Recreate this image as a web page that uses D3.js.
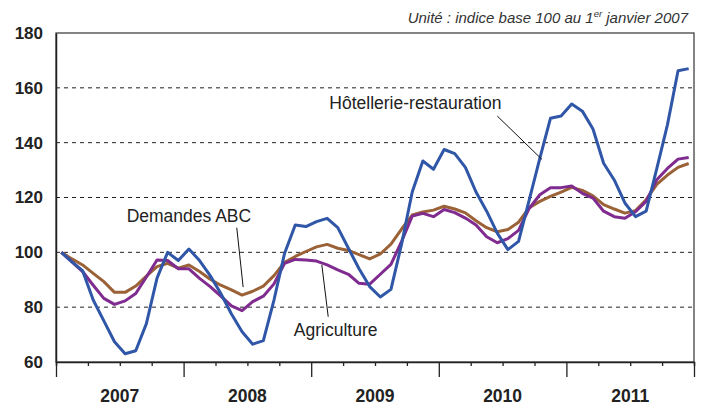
<!DOCTYPE html>
<html>
<head>
<meta charset="utf-8">
<script src="https://cdn.jsdelivr.net/npm/d3@7"></script>
<style>
  body { margin: 0; background: #fff; }
  text { font-family: "Liberation Sans", Arial, sans-serif; }
</style>
</head>
<body>
<div id="container"></div>
<script>
// monthly index, base 100 = January 2007
const years = ['2007', '2008', '2009', '2010', '2011'];
const yTicks = [60, 80, 100, 120, 140, 160, 180];

const hotellerie = [100, 96.5, 93.3, 82.6, 75, 67.4, 63, 64.1, 74, 90.6, 100, 97,
  101.2, 97, 91.5, 85, 77.5, 71, 66.5, 67.8, 82.6, 99.7, 110, 109.4,
  111.2, 112.4, 109, 101.5, 94, 87.5, 83.7, 86.5, 103, 122, 133.3, 130.3,
  137.5, 136, 131, 122, 115, 107, 101, 104, 119, 134.3, 148.9, 149.7,
  154.1, 151.5, 145, 132.5, 126.4, 118, 113, 115, 130.5, 146.5, 166.2, 167];

const agriculture = [100, 96.5, 93, 88, 83.2, 81, 82.3, 85, 91, 97.2, 97, 94,
  94, 90.5, 87.5, 84, 80.5, 78.7, 82, 84, 88.5, 96, 97.4, 97.2,
  96.8, 95.4, 93.6, 92, 88.7, 88.4, 92, 95.6, 104, 113.2, 114.2, 113,
  115.6, 114.5, 112.5, 110, 105.7, 103.5, 105, 108, 116, 121, 123.6, 123.6,
  124.2, 121.5, 119.8, 115, 113, 112.4, 114.8, 118.6, 126.5, 130.6, 134, 134.6];

const demandesABC = [100, 97.6, 95.4, 92.3, 89.3, 85.4, 85.4, 87.7, 91.3, 94.8, 96, 94.2,
  95.4, 93, 90.2, 88, 86.3, 84.4, 85.8, 87.7, 91.5, 96.4, 98.5, 100.3,
  102, 102.9, 101.5, 100.7, 99.2, 97.6, 99.4, 103, 108.5, 113.6, 114.7, 115.4,
  116.8, 115.8, 114.4, 111.5, 109, 107.5, 108.3, 111, 116.3, 118.6, 120.4, 122,
  123.7, 122.6, 120.6, 117.4, 115.8, 114.3, 115.2, 119.2, 124.8, 128.2, 131, 132.4];

const series = [
  { name: 'Demandes ABC', values: demandesABC, color: '#9a6236' },
  { name: 'Agriculture', values: agriculture, color: '#7f2b8f' },
  { name: 'Hôtellerie-restauration', values: hotellerie, color: '#3056a8' }
];

const width = 703, height = 407;
const margin = { top: 33, right: 9, bottom: 45, left: 56 };
const innerW = width - margin.left - margin.right;
const innerH = height - margin.top - margin.bottom;
const nMonths = years.length * 12;

const xScale = d3.scaleLinear()
  .domain([-0.5, nMonths - 0.5])
  .range([0, innerW]);
const yScale = d3.scaleLinear()
  .domain([60, 180])
  .range([innerH, 0]);

const svg = d3.select('#container')
  .append('svg')
  .attr('width', width)
  .attr('height', height);

const g = svg.append('g')
  .attr('transform', `translate(${margin.left},${margin.top})`);

// dashed gridlines
g.selectAll('.grid')
  .data(yTicks.filter(d => d > 60 && d < 180))
  .enter()
  .append('line')
  .attr('x1', 0)
  .attr('x2', innerW)
  .attr('y1', d => yScale(d))
  .attr('y2', d => yScale(d))
  .attr('stroke', '#222')
  .attr('stroke-width', 1)
  .attr('stroke-dasharray', '4,4');

// frame
g.append('rect')
  .attr('width', innerW)
  .attr('height', innerH)
  .attr('fill', 'none')
  .attr('stroke', '#333')
  .attr('stroke-width', 1.2);

// y axis
const yAxis = g.append('g')
  .call(d3.axisLeft(yScale).tickValues(yTicks).tickSize(0).tickPadding(13));
yAxis.select('.domain').attr('stroke', '#222').attr('stroke-width', 1.5);
yAxis.selectAll('text')
  .attr('font-size', 17)
  .attr('font-weight', 'bold')
  .attr('fill', '#222');

// x axis: quarter ticks, year ticks longer
const quarterTicks = d3.range(0, nMonths + 1, 3).map(m => m - 0.5);
const xAxis = g.append('g')
  .attr('transform', `translate(0,${innerH})`)
  .call(d3.axisBottom(xScale).tickValues(quarterTicks).tickSize(4).tickFormat(''));
xAxis.select('.domain').attr('stroke', '#222').attr('stroke-width', 1.5);
xAxis.selectAll('.tick line')
  .attr('stroke', '#222')
  .attr('stroke-width', 1.3)
  .attr('y2', (d, i) => (i % 4 === 0 ? 15 : 4));

g.selectAll('.year')
  .data(years)
  .enter()
  .append('text')
  .attr('x', (d, i) => xScale(i * 12 + 5.5))
  .attr('y', innerH + 40)
  .attr('text-anchor', 'middle')
  .attr('font-size', 17.5)
  .attr('font-weight', 'bold')
  .attr('fill', '#222')
  .text(d => d);

// lines
const line = d3.line()
  .x((d, i) => xScale(i))
  .y(d => yScale(d));

g.selectAll('.series')
  .data(series)
  .enter()
  .append('path')
  .attr('fill', 'none')
  .attr('stroke', d => d.color)
  .attr('stroke-width', 3)
  .attr('stroke-linejoin', 'round')
  .attr('d', d => line(d.values));

// labels with leader lines
const labels = [
  { text: 'Hôtellerie-restauration', x: 33.3, y: 154.5, lx1: 41, ly1: 149.7, lx2: 45.2, ly2: 133.9 },
  { text: 'Demandes ABC', x: 12, y: 113.2, lx1: 16.5, ly1: 109, lx2: 17.1, ly2: 87.3 },
  { text: 'Agriculture', x: 25.8, y: 71.7, lx1: 24.5, ly1: 95.4, lx2: 25.1, ly2: 76.5 }
];

labels.forEach(l => {
  g.append('line')
    .attr('x1', xScale(l.lx1))
    .attr('y1', yScale(l.ly1))
    .attr('x2', xScale(l.lx2))
    .attr('y2', yScale(l.ly2))
    .attr('stroke', '#111')
    .attr('stroke-width', 1);
  g.append('text')
    .attr('x', xScale(l.x))
    .attr('y', yScale(l.y))
    .attr('dy', '0.35em')
    .attr('text-anchor', 'middle')
    .attr('font-size', 17.5)
    .attr('fill', '#222')
    .text(l.text);
});

// unit note
const note = svg.append('text')
  .attr('x', 688)
  .attr('y', 23)
  .attr('text-anchor', 'end')
  .attr('font-size', 15)
  .attr('font-style', 'italic')
  .attr('fill', '#333');
note.append('tspan').text('Unité : indice base 100 au 1');
note.append('tspan').attr('dy', -6).attr('font-size', 9.5).text('er');
note.append('tspan').attr('dy', 6).text(' janvier 2007');
</script>
</body>
</html>
